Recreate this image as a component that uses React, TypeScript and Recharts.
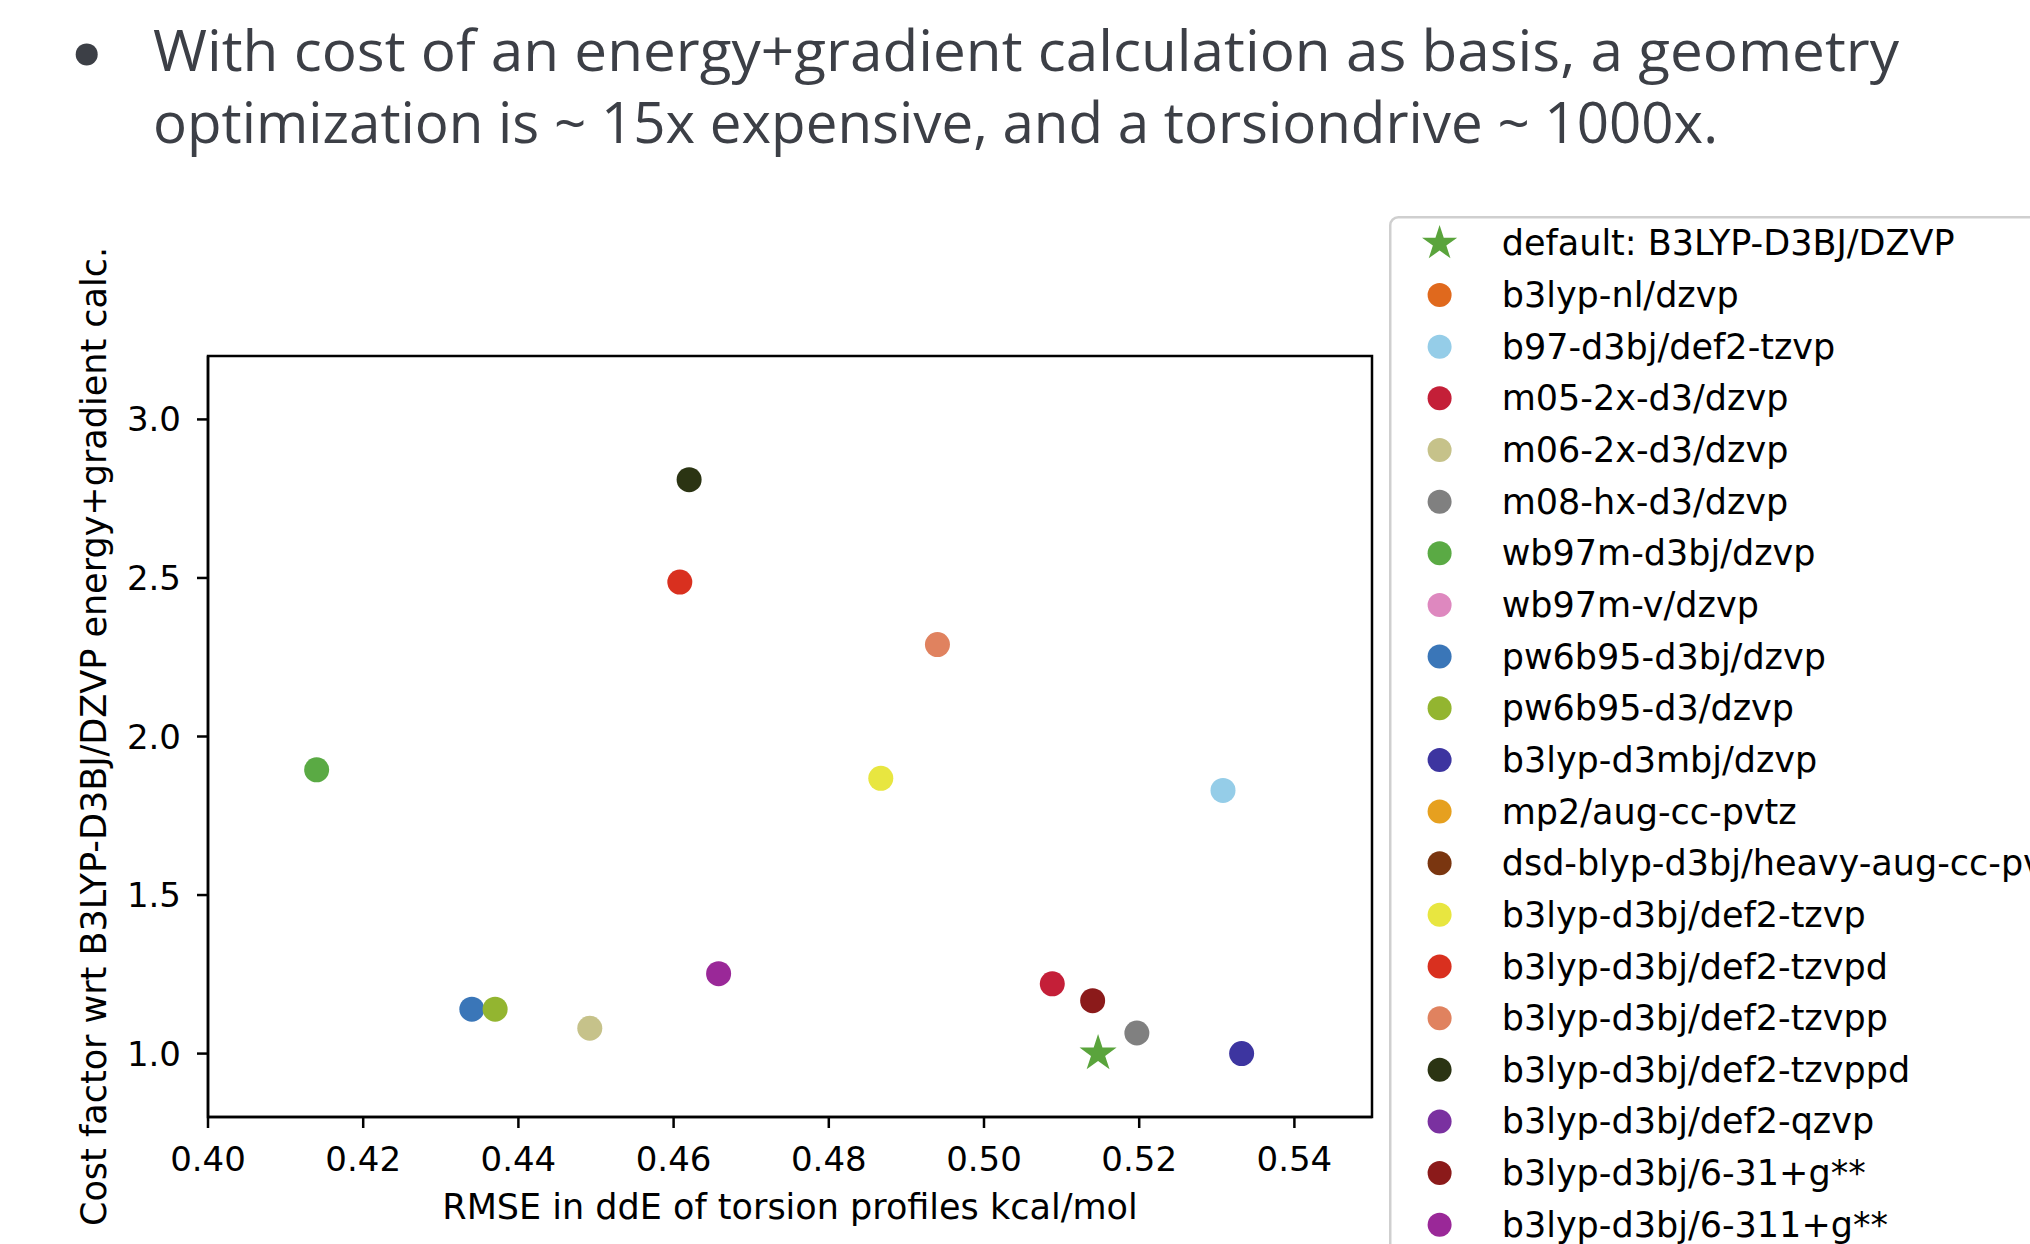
import React from 'react';
import { ScatterChart, Scatter, XAxis, YAxis, ReferenceArea, Legend } from 'recharts';

// legend order = series order
const methods = [
  'default: B3LYP-D3BJ/DZVP',
  'b3lyp-nl/dzvp',
  'b97-d3bj/def2-tzvp',
  'm05-2x-d3/dzvp',
  'm06-2x-d3/dzvp',
  'm08-hx-d3/dzvp',
  'wb97m-d3bj/dzvp',
  'wb97m-v/dzvp',
  'pw6b95-d3bj/dzvp',
  'pw6b95-d3/dzvp',
  'b3lyp-d3mbj/dzvp',
  'mp2/aug-cc-pvtz',
  'dsd-blyp-d3bj/heavy-aug-cc-pvtz',
  'b3lyp-d3bj/def2-tzvp',
  'b3lyp-d3bj/def2-tzvpd',
  'b3lyp-d3bj/def2-tzvpp',
  'b3lyp-d3bj/def2-tzvppd',
  'b3lyp-d3bj/def2-qzvp',
  'b3lyp-d3bj/6-31+g**',
  'b3lyp-d3bj/6-311+g**',
];

const colors = [
  '#5aa43c', '#e0691d', '#95cde8', '#c41f38', '#c6c28a',
  '#808080', '#5aaa44', '#de88bf', '#3a76b8', '#93b530',
  '#3d35a0', '#e6a01f', '#7a3610', '#e8e640', '#d9301f',
  '#e0825f', '#2b3413', '#7a31a0', '#8b1a1a', '#9a2898',
];

// RMSE in ddE (kcal/mol); null = not visible in plot
const rmse = [
  0.5147, null, 0.5308, 0.5088, 0.4492,
  0.5197, 0.4140, null, 0.4340, 0.4370,
  0.5332, null, null, 0.4867, 0.4608,
  0.4940, 0.4620, null, 0.5140, 0.4658,
];

// cost factor wrt B3LYP-D3BJ/DZVP energy+gradient
const cost = [
  1.0, null, 1.83, 1.22, 1.08,
  1.065, 1.895, null, 1.14, 1.14,
  1.0, null, null, 1.868, 2.487,
  2.29, 2.81, null, 1.167, 1.252,
];

const xTicks = [0.40, 0.42, 0.44, 0.46, 0.48, 0.50, 0.52, 0.54];
const yTicks = [1.0, 1.5, 2.0, 2.5, 3.0];

const FONT = 'DejaVu Sans';

function starPoints(cx: number, cy: number, R: number) {
  const pts: string[] = [];
  for (let i = 0; i < 10; i++) {
    const r = i % 2 === 0 ? R : R * 0.382;
    const a = -Math.PI / 2 + (i * Math.PI) / 5;
    pts.push(`${cx + r * Math.cos(a)},${cy + r * Math.sin(a)}`);
  }
  return pts.join(' ');
}

const DotShape = (props: any) => (
  <circle cx={props.cx} cy={props.cy} r={12.5} fill={props.fill} />
);

const StarShape = (props: any) => (
  <polygon points={starPoints(props.cx, props.cy, 19.5)} fill={props.fill} />
);

const LegendBox = () => (
  <svg width={700} height={1100} style={{ display: 'block' }}>
    <rect x={1.25} y={1.25} width={900} height={1300} rx={8} fill="#fff" stroke="#cfcfcf" strokeWidth={2.5} />
    {methods.map((m, i) => {
      const cy = 27.4 + i * 51.65;
      return (
        <g key={m}>
          {i === 0 ? (
            <polygon points={starPoints(50.6, cy, 18.5)} fill={colors[i]} />
          ) : (
            <circle cx={50.6} cy={cy} r={12} fill={colors[i]} />
          )}
          <text x={112.7} y={cy} dominantBaseline="central" fontFamily={FONT} fontSize={35} fill="#000">
            {m}
          </text>
        </g>
      );
    })}
  </svg>
);

const XTitle = (props: any) => {
  const vb = props.viewBox || { x: 208, y: 1117, width: 1164 };
  return (
    <text x={vb.x + vb.width / 2} y={vb.y + 102} textAnchor="middle" fontFamily={FONT} fontSize={35} fill="#000">
      RMSE in ddE of torsion profiles kcal/mol
    </text>
  );
};

const YTitle = (props: any) => {
  const vb = props.viewBox || { y: 355, height: 762 };
  const cy = vb.y + vb.height / 2;
  return (
    <text
      x={94}
      y={cy}
      transform={`rotate(-90 94 ${cy})`}
      textAnchor="middle"
      dominantBaseline="central"
      fontFamily={FONT}
      fontSize={35}
      fill="#000"
    >
      Cost factor wrt B3LYP-D3BJ/DZVP energy+gradient calc.
    </text>
  );
};

export default function App() {
  const tickStyle = { fontFamily: FONT, fontSize: 34, fill: '#000' };
  return (
    <div style={{ position: 'absolute', left: 0, top: 0, width: 2030, height: 1244, overflow: 'hidden', background: '#fff' }}>
      <svg width={2030} height={160} style={{ position: 'absolute', left: 0, top: 0 }}>
        <circle cx={86.7} cy={54.4} r={11} fill="#3c3f46" />
        <text x={153} y={70.7} textLength={1746} lengthAdjust="spacingAndGlyphs" fontFamily="Open Sans" fontWeight={500} fontSize={56} fill="#3c3f46">
          With cost of an energy+gradient calculation as basis, a geometry
        </text>
        <text x={153} y={143} textLength={1565} lengthAdjust="spacingAndGlyphs" fontFamily="Open Sans" fontWeight={500} fontSize={56} fill="#3c3f46">
          optimization is ~ 15x expensive, and a torsiondrive ~ 1000x.
        </text>
      </svg>
      <ScatterChart width={2030} height={1244} margin={{ top: 356, right: 658, left: 0, bottom: 0 }}>
        <XAxis
          type="number"
          dataKey="x"
          domain={[0.4, 0.55]}
          ticks={xTicks}
          allowDataOverflow
          height={127}
          tickSize={11}
          tickMargin={19}
          stroke="#000"
          strokeWidth={2.5}
          tick={tickStyle}
          tickFormatter={(v: number) => v.toFixed(2)}
          label={XTitle}
        />
        <YAxis
          type="number"
          dataKey="y"
          domain={[0.8, 3.2]}
          ticks={yTicks}
          allowDataOverflow
          width={208}
          tickSize={11}
          tickMargin={16}
          stroke="#000"
          strokeWidth={2.5}
          tick={tickStyle}
          tickFormatter={(v: number) => v.toFixed(1)}
          label={YTitle}
        />
        <ReferenceArea x1={0.4} x2={0.55} y1={0.8} y2={3.2} fill="none" stroke="#000" strokeWidth={2.5} fillOpacity={0} />
        {methods.map((m, i) => (
          <Scatter
            key={m}
            name={m}
            data={rmse[i] == null ? [] : [{ x: rmse[i], y: cost[i] }]}
            fill={colors[i]}
            shape={i === 0 ? StarShape : DotShape}
            isAnimationActive={false}
          />
        ))}
        <Legend
          layout="vertical"
          align="center"
          verticalAlign="middle"
          wrapperStyle={{ left: 1389, top: 216, width: 700, height: 1100 }}
          content={LegendBox}
        />
      </ScatterChart>
    </div>
  );
}
